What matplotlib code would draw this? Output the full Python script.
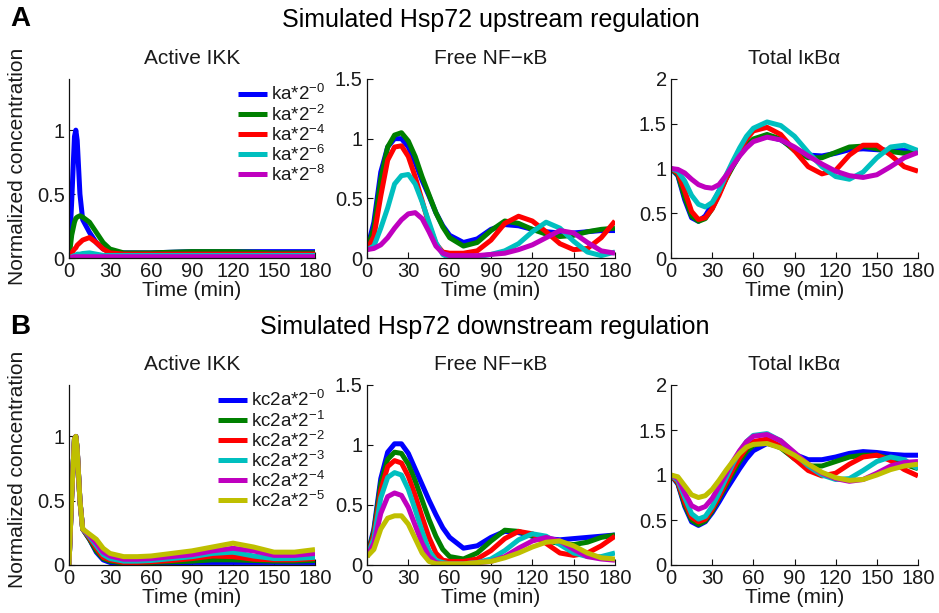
import numpy as np
import matplotlib.pyplot as plt

plt.rcParams['font.family'] = ['Liberation Sans', 'DejaVu Sans']
plt.rcParams['mathtext.fontset'] = 'custom'
plt.rcParams['mathtext.rm'] = 'Liberation Sans'
plt.rcParams['mathtext.it'] = 'Liberation Sans:italic'
plt.rcParams['mathtext.bf'] = 'Liberation Sans:bold'

# matlab style line colours
colors = ['#0000ff', '#008000', '#ff0000', '#00bfbf', '#bf00bf', '#bfbf00']

# time grids (min)
t_ikk_a = [0, 2, 4, 5, 6, 8, 10, 15, 20, 25, 30, 40, 50, 60, 90, 120, 150, 180]
t_ikk_b = [0, 2, 4, 5, 6, 8, 10, 15, 20, 25, 30, 40, 50, 60, 75, 90, 105, 120, 135, 150, 165, 180]
t_std = [0, 5, 10, 15, 20, 25, 30, 35, 40, 45, 50, 55, 60, 70, 80, 90, 100, 110, 120, 130, 140, 150, 160, 170, 180]

labels_a = [r'ka*2$^{-0}$', r'ka*2$^{-2}$', r'ka*2$^{-4}$', r'ka*2$^{-6}$', r'ka*2$^{-8}$']
labels_b = [r'kc2a*2$^{-0}$', r'kc2a*2$^{-1}$', r'kc2a*2$^{-2}$',
            r'kc2a*2$^{-3}$', r'kc2a*2$^{-4}$', r'kc2a*2$^{-5}$']

# ---- A: upstream regulation ----
ikk_a_blue = [0, 0.45, 0.95, 1.0, 0.92, 0.5, 0.3, 0.2, 0.12, 0.07, 0.05, 0.04, 0.04, 0.04, 0.05, 0.05, 0.05, 0.05]
ikk_a_green = [0, 0.18, 0.28, 0.31, 0.32, 0.33, 0.32, 0.28, 0.2, 0.12, 0.07, 0.04, 0.04, 0.04, 0.05, 0.05, 0.04, 0.04]
ikk_a_red = [0, 0.04, 0.07, 0.08, 0.1, 0.12, 0.14, 0.16, 0.12, 0.07, 0.04, 0.03, 0.03, 0.03, 0.03, 0.03, 0.03, 0.03]
ikk_a_cyan = [0, 0.01, 0.02, 0.02, 0.03, 0.03, 0.035, 0.04, 0.03, 0.02, 0.02, 0.02, 0.02, 0.02, 0.02, 0.02, 0.02, 0.02]
ikk_a_mag = [0, 0.005, 0.01, 0.01, 0.01, 0.01, 0.01, 0.01, 0.01, 0.01, 0.01, 0.01, 0.01, 0.01, 0.01, 0.01, 0.01, 0.01]

nf_a_blue = [0.07, 0.3, 0.72, 0.93, 1.0, 1.0, 0.93, 0.8, 0.65, 0.52, 0.38, 0.27, 0.19, 0.13, 0.16, 0.24, 0.28, 0.27, 0.24, 0.22, 0.21, 0.21, 0.22, 0.23, 0.23]
nf_a_green = [0.07, 0.25, 0.66, 0.93, 1.03, 1.05, 0.98, 0.85, 0.68, 0.53, 0.38, 0.26, 0.17, 0.1, 0.13, 0.23, 0.31, 0.29, 0.24, 0.2, 0.18, 0.19, 0.22, 0.24, 0.25]
nf_a_red = [0.07, 0.18, 0.52, 0.82, 0.93, 0.94, 0.85, 0.68, 0.48, 0.28, 0.12, 0.05, 0.04, 0.04, 0.06, 0.15, 0.29, 0.35, 0.31, 0.22, 0.12, 0.07, 0.08, 0.17, 0.31]
nf_a_cyan = [0.07, 0.1, 0.25, 0.42, 0.62, 0.69, 0.7, 0.62, 0.47, 0.3, 0.13, 0.03, 0.0, 0.0, 0.01, 0.03, 0.06, 0.12, 0.22, 0.3, 0.25, 0.14, 0.05, 0.02, 0.05]
nf_a_mag = [0.07, 0.08, 0.11, 0.17, 0.25, 0.32, 0.37, 0.38, 0.33, 0.22, 0.1, 0.04, 0.02, 0.02, 0.02, 0.03, 0.04, 0.07, 0.11, 0.17, 0.23, 0.21, 0.13, 0.06, 0.04]

ikb_a_blue = [1.0, 0.92, 0.65, 0.45, 0.41, 0.47, 0.6, 0.75, 0.9, 1.03, 1.15, 1.25, 1.31, 1.36, 1.32, 1.22, 1.15, 1.14, 1.17, 1.21, 1.22, 1.21, 1.2, 1.2, 1.2]
ikb_a_green = [1.0, 0.93, 0.68, 0.47, 0.41, 0.44, 0.55, 0.72, 0.88, 1.02, 1.15, 1.26, 1.33, 1.38, 1.33, 1.2, 1.12, 1.12, 1.18, 1.24, 1.25, 1.22, 1.19, 1.17, 1.18]
ikb_a_red = [1.0, 0.95, 0.75, 0.52, 0.43, 0.45, 0.55, 0.7, 0.88, 1.05, 1.2, 1.33, 1.42, 1.46, 1.38, 1.2, 1.02, 0.94, 0.98, 1.15, 1.26, 1.26, 1.15, 1.02, 0.97]
ikb_a_cyan = [1.0, 0.97, 0.86, 0.7, 0.6, 0.57, 0.62, 0.75, 0.92, 1.08, 1.23, 1.36, 1.45, 1.52, 1.48, 1.36, 1.18, 1.02, 0.91, 0.88, 0.96, 1.12, 1.24, 1.26, 1.2]
ikb_a_mag = [1.0, 0.99, 0.95, 0.88, 0.82, 0.79, 0.78, 0.82, 0.92, 1.03, 1.14, 1.23, 1.3, 1.35, 1.32, 1.24, 1.14, 1.05, 0.97, 0.92, 0.9, 0.93, 1.02, 1.12, 1.18]

# ---- B: downstream regulation ----
ikk_b_blue = [0, 0.55, 0.98, 1.0, 0.9, 0.5, 0.28, 0.2, 0.1, 0.04, 0.02, 0.01, 0.01, 0.01, 0.015, 0.02, 0.02, 0.02, 0.02, 0.02, 0.02, 0.02]
ikk_b_green = [0, 0.55, 0.98, 1.0, 0.9, 0.5, 0.28, 0.2, 0.11, 0.05, 0.03, 0.015, 0.015, 0.02, 0.025, 0.03, 0.04, 0.04, 0.035, 0.03, 0.03, 0.035]
ikk_b_red = [0, 0.55, 0.98, 1.0, 0.9, 0.5, 0.28, 0.21, 0.13, 0.06, 0.04, 0.02, 0.02, 0.025, 0.035, 0.05, 0.07, 0.065, 0.045, 0.04, 0.04, 0.05]
ikk_b_cyan = [0, 0.55, 0.98, 1.0, 0.9, 0.5, 0.28, 0.22, 0.15, 0.08, 0.05, 0.03, 0.03, 0.035, 0.05, 0.065, 0.09, 0.1, 0.07, 0.05, 0.05, 0.06]
ikk_b_mag = [0, 0.55, 0.98, 1.0, 0.9, 0.5, 0.28, 0.23, 0.17, 0.1, 0.07, 0.045, 0.045, 0.05, 0.065, 0.08, 0.11, 0.13, 0.11, 0.075, 0.075, 0.09]
ikk_b_yel = [0, 0.55, 0.98, 1.0, 0.9, 0.5, 0.28, 0.24, 0.2, 0.13, 0.09, 0.065, 0.065, 0.07, 0.09, 0.11, 0.14, 0.17, 0.14, 0.1, 0.1, 0.12]

nf_b_blue = [0.07, 0.3, 0.72, 0.94, 1.01, 1.01, 0.93, 0.8, 0.67, 0.54, 0.42, 0.31, 0.23, 0.14, 0.16, 0.23, 0.28, 0.27, 0.24, 0.22, 0.21, 0.22, 0.23, 0.24, 0.25]
nf_b_green = [0.07, 0.28, 0.68, 0.88, 0.94, 0.93, 0.84, 0.7, 0.54, 0.38, 0.24, 0.13, 0.07, 0.05, 0.1, 0.2, 0.29, 0.28, 0.24, 0.2, 0.18, 0.17, 0.19, 0.23, 0.25]
nf_b_red = [0.07, 0.25, 0.62, 0.82, 0.87, 0.85, 0.74, 0.58, 0.4, 0.23, 0.1, 0.04, 0.03, 0.03, 0.05, 0.12, 0.22, 0.28, 0.26, 0.18, 0.1, 0.08, 0.1, 0.16, 0.24]
nf_b_cyan = [0.07, 0.22, 0.56, 0.73, 0.77, 0.75, 0.63, 0.46, 0.28, 0.12, 0.04, 0.02, 0.01, 0.01, 0.02, 0.05, 0.12, 0.21, 0.26, 0.24, 0.17, 0.1, 0.07, 0.07, 0.1]
nf_b_mag = [0.07, 0.18, 0.43, 0.57, 0.6, 0.58, 0.48, 0.33, 0.18, 0.07, 0.02, 0.01, 0.01, 0.01, 0.02, 0.03, 0.07, 0.14, 0.2, 0.23, 0.2, 0.13, 0.07, 0.05, 0.04]
nf_b_yel = [0.07, 0.13, 0.3, 0.39, 0.41, 0.41, 0.34, 0.22, 0.1, 0.03, 0.01, 0.01, 0.01, 0.01, 0.02, 0.03, 0.06, 0.1, 0.15, 0.19, 0.2, 0.16, 0.1, 0.06, 0.05]

ikb_b_blue = [1.0, 0.9, 0.65, 0.48, 0.44, 0.48, 0.58, 0.7, 0.83, 0.95, 1.07, 1.18, 1.27, 1.35, 1.31, 1.23, 1.17, 1.17, 1.2, 1.24, 1.26, 1.25, 1.23, 1.22, 1.22]
ikb_b_green = [1.0, 0.91, 0.67, 0.5, 0.45, 0.49, 0.6, 0.74, 0.88, 1.02, 1.15, 1.26, 1.33, 1.37, 1.3, 1.18, 1.1, 1.1, 1.15, 1.2, 1.22, 1.22, 1.18, 1.12, 1.07]
ikb_b_red = [1.0, 0.92, 0.7, 0.53, 0.48, 0.51, 0.62, 0.76, 0.91, 1.06, 1.19, 1.3, 1.37, 1.4, 1.32, 1.18, 1.05, 0.99, 1.02, 1.12, 1.2, 1.22, 1.16, 1.06, 0.99]
ikb_b_cyan = [1.0, 0.94, 0.75, 0.57, 0.51, 0.54, 0.65, 0.8, 0.96, 1.12, 1.26, 1.37, 1.44, 1.46, 1.38, 1.24, 1.1, 1.0, 0.95, 0.96, 1.05, 1.15, 1.2, 1.17, 1.07]
ikb_b_mag = [1.0, 0.96, 0.8, 0.66, 0.62, 0.65, 0.74, 0.87, 1.01, 1.15, 1.27, 1.37, 1.43, 1.45, 1.38, 1.25, 1.12, 1.02, 0.96, 0.93, 0.95, 1.02, 1.1, 1.14, 1.15]
ikb_b_yel = [1.0, 0.98, 0.88, 0.78, 0.75, 0.77, 0.84, 0.94, 1.05, 1.15, 1.24, 1.31, 1.34, 1.35, 1.3, 1.22, 1.12, 1.03, 0.97, 0.94, 0.95, 1.0, 1.06, 1.1, 1.12]

xticks = [0, 30, 60, 90, 120, 150, 180]
titles = ['Active IKK', 'Free NF\u2212\u03baB', 'Total I\u03baB\u03b1']
ylims = [1.4, 1.5, 2.0]
yticks = [[0, 0.5, 1], [0, 0.5, 1, 1.5], [0, 0.5, 1, 1.5, 2]]
ytick_labels = [['0', '0.5', '1'], ['0', '0.5', '1', '1.5'], ['0', '0.5', '1', '1.5', '2']]

rows = [
    (t_ikk_a, [ikk_a_blue, ikk_a_green, ikk_a_red, ikk_a_cyan, ikk_a_mag],
     [nf_a_blue, nf_a_green, nf_a_red, nf_a_cyan, nf_a_mag],
     [ikb_a_blue, ikb_a_green, ikb_a_red, ikb_a_cyan, ikb_a_mag], labels_a),
    (t_ikk_b, [ikk_b_blue, ikk_b_green, ikk_b_red, ikk_b_cyan, ikk_b_mag, ikk_b_yel],
     [nf_b_blue, nf_b_green, nf_b_red, nf_b_cyan, nf_b_mag, nf_b_yel],
     [ikb_b_blue, ikb_b_green, ikb_b_red, ikb_b_cyan, ikb_b_mag, ikb_b_yel], labels_b),
]

W, H = 939, 613
fig = plt.figure(figsize=(W / 100, H / 100), dpi=100)

lefts = [69, 367, 671]
widths = [246, 248, 247]
row_top = [79, 385]
row_bot = [258, 565]
txtc = '#1a1a1a'
lw = 3.6

for r, (t_ikk, ikk, nf, ikb, labs) in enumerate(rows):
    for c in range(3):
        ax = fig.add_axes([lefts[c] / W, 1 - row_bot[r] / H, widths[c] / W, (row_bot[r] - row_top[r]) / H])
        tt = t_ikk if c == 0 else t_std
        series = [ikk, nf, ikb][c]
        for i, y in enumerate(series):
            ax.plot(tt, y, color=colors[i], lw=lw, solid_joinstyle='round', solid_capstyle='butt', label=labs[i])
        ax.set_xlim(0, 180)
        ax.set_ylim(0, ylims[c])
        ax.set_xticks(xticks)
        ax.set_yticks(yticks[c])
        ax.set_yticklabels(ytick_labels[c])
        for s in ['top', 'right']:
            ax.spines[s].set_visible(False)
        for s in ['left', 'bottom']:
            ax.spines[s].set_linewidth(0.9)
            ax.spines[s].set_color('#111111')
        ax.tick_params(direction='in', length=4, width=0.8, labelsize=14.5, colors='#111111',
                       labelcolor=txtc, pad=3)
        ax.set_title(titles[c], fontsize=15, color=txtc, pad=11)
        ax.set_xlabel('Time (min)', fontsize=15, color=txtc, labelpad=0)
        if c == 0:
            leg = ax.legend(loc='upper right', bbox_to_anchor=(1.04, 0.97), frameon=False,
                            fontsize=13.5, handlelength=1.55, handletextpad=0.2,
                            labelspacing=0.0, borderpad=0, borderaxespad=0)
            for txt in leg.get_texts():
                txt.set_color(txtc)

fig.text(18 / W, 1 - 166 / H, 'Normalized concentration', rotation=90, ha='center', va='center', fontsize=15, color=txtc)
fig.text(18 / W, 1 - 469 / H, 'Normalized concentration', rotation=90, ha='center', va='center', fontsize=15, color=txtc)
fig.text(491 / W, 1 - 20 / H, 'Simulated Hsp72 upstream regulation', ha='center', va='center', fontsize=18, color='black')
fig.text(485 / W, 1 - 327 / H, 'Simulated Hsp72 downstream regulation', ha='center', va='center', fontsize=18, color='black')
fig.text(20 / W, 1 - 19 / H, 'A', ha='center', va='center', fontsize=20, fontweight='bold', color='black')
fig.text(20 / W, 1 - 327 / H, 'B', ha='center', va='center', fontsize=20, fontweight='bold', color='black')

fig.savefig('out.png', dpi=100)
